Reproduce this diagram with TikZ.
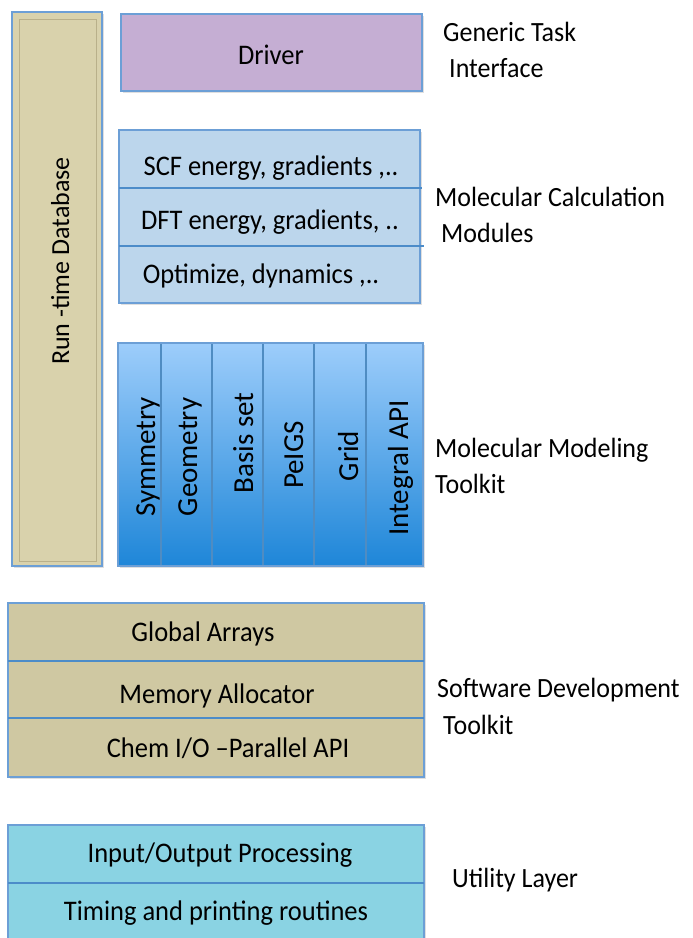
\documentclass[tikz,border=0pt]{standalone}
\usepackage{fontspec}
\setmainfont{Carlito}
\usetikzlibrary{shadows}

\definecolor{edge}{HTML}{6C9FD6}
\definecolor{sepblue}{HTML}{4C8CC9}
\definecolor{dbfill}{HTML}{D9D2AC}
\definecolor{dbinner}{HTML}{B9B08A}
\definecolor{driverfill}{HTML}{C5AED3}
\definecolor{calcfill}{HTML}{BCD6EC}
\definecolor{tktop}{HTML}{9DCDFB}
\definecolor{tkbot}{HTML}{1E86D8}
\definecolor{tksep}{HTML}{4F8CC2}
\definecolor{sdkfill}{HTML}{CFC8A2}
\definecolor{utilfill}{HTML}{8AD3E3}

\begin{document}
\begin{tikzpicture}[x=1pt,y=-1pt,
  box/.style={draw=edge, line width=1.4pt,
    drop shadow={shadow xshift=1.5pt, shadow yshift=-2pt, opacity=0.25}},
  sep/.style={draw=sepblue, line width=2.4pt},
  colsep/.style={draw=tksep, line width=1.6pt},
  lbl/.style={anchor=base, inner sep=0pt, yscale=1.07, font=\fontsize{26.5}{31}\selectfont},
  side/.style={anchor=base west, inner sep=0pt, yscale=1.07, font=\fontsize{26}{31}\selectfont},
  vlbl/.style={anchor=base, rotate=90, inner sep=0pt, font=\fontsize{29}{34}\selectfont}]

\clip (0,0) rectangle (693,938);

% Run-time database column
\path[box, fill=dbfill] (12,12) rectangle (102,566);
\draw[dbinner, line width=1pt] (19,19) rectangle (96,561);
\node[vlbl, font=\fontsize{26}{31}\selectfont] (rtdb) at (69,261) {Run -time Database};

% Driver
\path[box, fill=driverfill] (121,14) rectangle (422,91);
\node[lbl] (driver) at (271,64) {Driver};

% Molecular calculation modules
\path[box, fill=calcfill] (119,130) rectangle (420,303);
\draw[sep] (119,188) -- (422,188);
\draw[sep] (119,246) -- (424,246);
\node[lbl] (scf) at (271,175) {SCF energy, gradients ,..};
\node[lbl] (dft) at (270,229) {DFT energy, gradients, ..};
\node[lbl] (opt) at (261,283) {Optimize, dynamics ,..};

% Molecular modeling toolkit
\path[box, top color=tktop, bottom color=tkbot] (118,343) rectangle (423,566);
\foreach \cx in {161,212,263,314,366}
  \draw[colsep] (\cx,344) -- (\cx,565);
\node[vlbl] (sym)  at (155,457) {Symmetry};
\node[vlbl] (geo)  at (197,457) {Geometry};
\node[vlbl] (bas)  at (253,443) {Basis set};
\node[vlbl] (peigs) at (303,455) {PeIGS};
\node[vlbl] (grid) at (358,456) {Grid};
\node[vlbl] (iapi) at (408,468) {Integral API};

% Software development toolkit
\path[box, fill=sdkfill] (8,603) rectangle (424,777);
\draw[sep] (8,661) -- (424,661);
\draw[sep] (8,718) -- (424,718);
\node[lbl] (ga)  at (203,641) {Global Arrays};
\node[lbl] (ma)  at (217,703) {Memory Allocator};
\node[lbl] (cio) at (228,757) {Chem I/O –Parallel API};

% Utility layer
\path[box, fill=utilfill] (8,825) rectangle (424,960);
\draw[sep] (8,883) -- (424,883);
\node[lbl] (iop) at (220,862) {Input/Output Processing};
\node[lbl] (tpr) at (216,920) {Timing and printing routines};

% Layer captions
\node[side] (gti1) at (443,41) {Generic Task};
\node[side] (gti2) at (449,77) {Interface};
\node[side] (mcm1) at (435,206) {Molecular Calculation};
\node[side] (mcm2) at (441,242) {Modules};
\node[side] (mmt1) at (435,457) {Molecular Modeling};
\node[side] (mmt2) at (435,493) {Toolkit};
\node[side] (sdt1) at (437,697) {Software Development};
\node[side] (sdt2) at (443,734) {Toolkit};
\node[side] (ul)   at (452,887) {Utility Layer};
\end{tikzpicture}
\end{document}
